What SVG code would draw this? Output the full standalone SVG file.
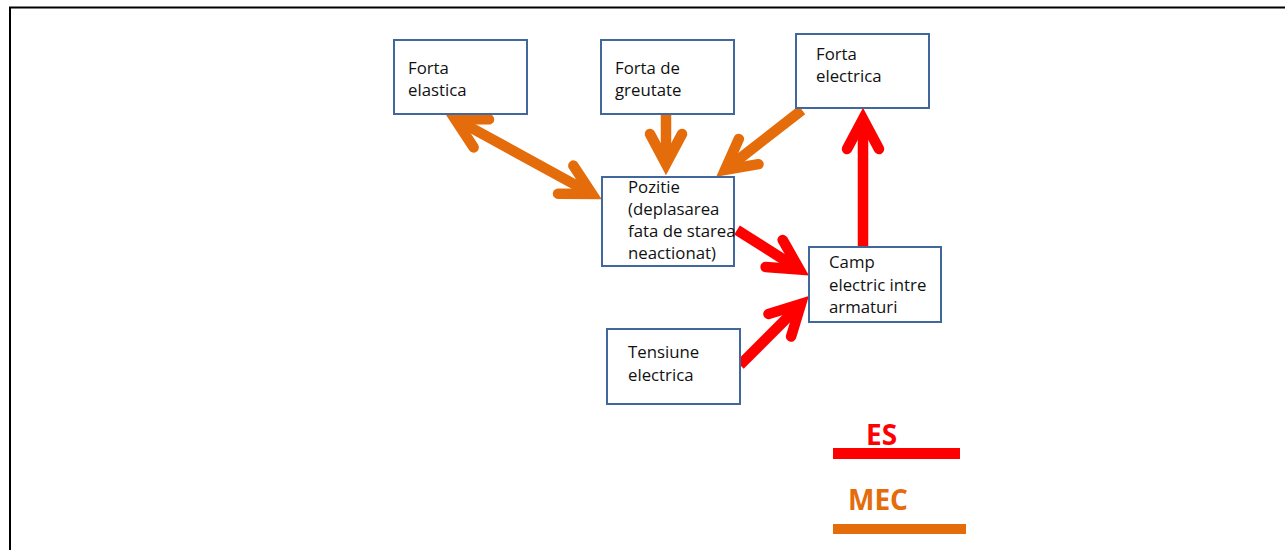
<svg xmlns="http://www.w3.org/2000/svg" width="1285" height="550" viewBox="0 0 1285 550">
  <style>
    .box { fill: #ffffff; stroke: #41679C; stroke-width: 2; }
    .lbl { font-family: "Open Sans", "Liberation Sans", sans-serif; font-size: 16.8px; fill: #111111; }
    .mec { fill: none; stroke: #E46C0A; stroke-width: 10.5; stroke-linecap: butt; }
    .es { fill: none; stroke: #FF0000; stroke-width: 10.5; stroke-linecap: butt; }
    .leg { font-family: "Open Sans", "Liberation Sans", sans-serif; font-size: 28px; font-weight: bold; }
  </style>
  <defs>
    <marker id="hOrange" markerUnits="userSpaceOnUse" orient="auto-start-reverse" refX="0" refY="0" markerWidth="60" markerHeight="60" overflow="visible">
      <path d="M -30 -16 L 0 0 L -30 16" fill="none" stroke="#E46C0A" stroke-width="10.5" stroke-linecap="round" stroke-linejoin="miter" stroke-miterlimit="10"/>
    </marker>
    <marker id="hRed" markerUnits="userSpaceOnUse" orient="auto-start-reverse" refX="0" refY="0" markerWidth="60" markerHeight="60" overflow="visible">
      <path d="M -30 -16 L 0 0 L -30 16" fill="none" stroke="#FF0000" stroke-width="10.5" stroke-linecap="round" stroke-linejoin="miter" stroke-miterlimit="10"/>
    </marker>
  </defs>

  <rect width="1285" height="550" fill="#ffffff"/>
  <path d="M10 550 V7.5 H1285" fill="none" stroke="#000000" stroke-width="2"/>

  <g id="connectors">
    <path class="mec" d="M455 119 L592 194" marker-start="url(#hOrange)" marker-end="url(#hOrange)"/>
    <path class="mec" d="M666 114 L666 164" marker-end="url(#hOrange)"/>
    <path class="mec" d="M802 110 L725 170" marker-end="url(#hOrange)"/>
    <path class="es" d="M737 230 L799.5 269.5" marker-end="url(#hRed)"/>
    <path class="es" d="M740 365 L801 304" marker-end="url(#hRed)"/>
    <path class="es" d="M863 246 L863 119" marker-end="url(#hRed)"/>
  </g>

  <g id="forta-elastica">
    <rect class="box" x="394" y="40" width="133" height="74"/>
    <text class="lbl" x="408" y="74">Forta</text>
    <text class="lbl" x="408" y="96">elastica</text>
  </g>
  <g id="forta-greutate">
    <rect class="box" x="601" y="40" width="133" height="74"/>
    <text class="lbl" x="615" y="74">Forta de</text>
    <text class="lbl" x="615" y="96">greutate</text>
  </g>
  <g id="forta-electrica">
    <rect class="box" x="796" y="34" width="133" height="74"/>
    <text class="lbl" x="816" y="60">Forta</text>
    <text class="lbl" x="816" y="82">electrica</text>
  </g>
  <g id="pozitie">
    <rect class="box" x="602" y="177" width="132" height="89"/>
    <text class="lbl" x="628" y="193">Pozitie</text>
    <text class="lbl" x="628" y="215">(deplasarea</text>
    <text class="lbl" x="628" y="237">fata de starea</text>
    <text class="lbl" x="628" y="259">neactionat)</text>
  </g>
  <g id="camp-electric">
    <rect class="box" x="809" y="247" width="132" height="75"/>
    <text class="lbl" x="829" y="268">Camp</text>
    <text class="lbl" x="829" y="291">electric intre</text>
    <text class="lbl" x="829" y="313">armaturi</text>
  </g>
  <g id="tensiune-electrica">
    <rect class="box" x="607" y="329" width="133" height="75"/>
    <text class="lbl" x="628" y="358">Tensiune</text>
    <text class="lbl" x="628" y="381">electrica</text>
  </g>

  <g id="legend">
    <text class="leg" x="866" y="445" fill="#FF0000">ES</text>
    <rect x="833" y="448" width="127" height="11" fill="#FF0000"/>
    <text class="leg" x="848" y="510" fill="#E46C0A">MEC</text>
    <rect x="833" y="524" width="133" height="10" fill="#E46C0A"/>
  </g>
</svg>
